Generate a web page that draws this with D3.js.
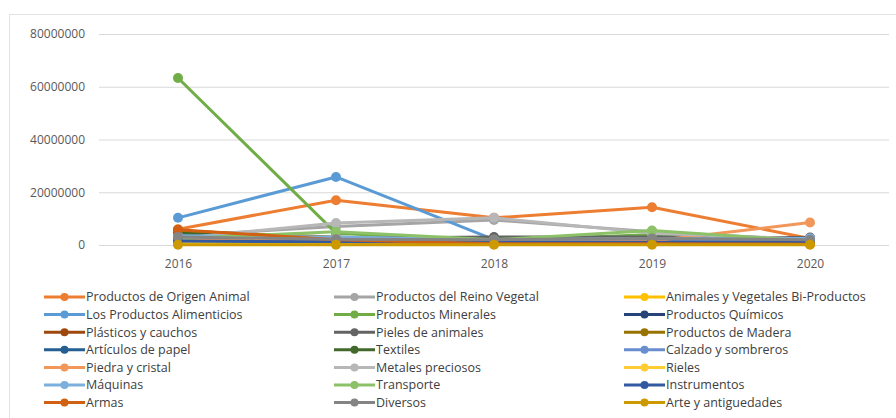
<!DOCTYPE html>
<html lang="es">
  <head>
    <meta charset="utf-8">
    <title>Exportaciones por sección</title>
    <script src="https://cdn.jsdelivr.net/npm/d3@7"></script>
    <style>
      body { margin: 0; background: #fff; }
      svg text { font-family: "Open Sans", "Liberation Sans", sans-serif; }
    </style>
  </head>
  <body>
    <div id="chart"></div>
    <script>
      // years on the x axis
      const years = ["2016", "2017", "2018", "2019", "2020"];
      const yTicks = [0, 20000000, 40000000, 60000000, 80000000];

      // series names in legend order (row by row, three columns)
      const names = [
        "Productos de Origen Animal", "Productos del Reino Vegetal", "Animales y Vegetales Bi-Productos",
        "Los Productos Alimenticios", "Productos Minerales", "Productos Químicos",
        "Plásticos y cauchos", "Pieles de animales", "Productos de Madera",
        "Artículos de papel", "Textiles", "Calzado y sombreros",
        "Piedra y cristal", "Metales preciosos", "Rieles",
        "Máquinas", "Transporte", "Instrumentos",
        "Armas", "Diversos", "Arte y antiguedades"
      ];

      const colors = [
        "#ED7D31", "#A5A5A5", "#FFC000",
        "#5B9BD5", "#70AD47", "#264478",
        "#9E480E", "#636363", "#997300",
        "#255E91", "#43682B", "#698ED0",
        "#F1975A", "#B7B7B7", "#FFCD33",
        "#7CAFDD", "#8CC168", "#335AA1",
        "#D26012", "#848484", "#CC9A00"
      ];

      // values per series, 2016..2020
      const origenAnimal    = [6000000, 17000000, 10300000, 14300000, 2500000];
      const reinoVegetal    = [3500000, 7000000, 9500000, 5000000, 2000000];
      const biProductos     = [800000, 800000, 600000, 900000, 500000];
      const alimenticios    = [10300000, 25800000, 2000000, 2500000, 2200000];
      const minerales       = [63300000, 4500000, 1500000, 4000000, 1000000];
      const quimicos        = [2000000, 1800000, 1500000, 1500000, 1200000];
      const plasticos       = [5500000, 2500000, 1200000, 1300000, 1000000];
      const pieles          = [3000000, 2600000, 3000000, 3000000, 2800000];
      const madera          = [5000000, 3000000, 1000000, 1000000, 800000];
      const papel           = [2000000, 1500000, 1200000, 1200000, 1000000];
      const textiles        = [4500000, 2000000, 1000000, 1000000, 800000];
      const calzado         = [1500000, 1200000, 1000000, 1000000, 2500000];
      const piedra          = [2000000, 1500000, 1000000, 1500000, 8500000];
      const metales         = [2500000, 8300000, 10300000, 4500000, 2200000];
      const rieles          = [500000, 500000, 500000, 800000, 500000];
      const maquinas        = [3500000, 3000000, 2000000, 2500000, 2500000];
      const transporte      = [2500000, 5000000, 2000000, 5500000, 1500000];
      const instrumentos    = [1500000, 1200000, 1000000, 1000000, 1000000];
      const armas           = [5800000, 2000000, 500000, 500000, 300000];
      const diversos        = [3000000, 2200000, 2000000, 2500000, 2000000];
      const arte            = [100000, 100000, 100000, 100000, 100000];

      const values = [
        origenAnimal, reinoVegetal, biProductos,
        alimenticios, minerales, quimicos,
        plasticos, pieles, madera,
        papel, textiles, calzado,
        piedra, metales, rieles,
        maquinas, transporte, instrumentos,
        armas, diversos, arte
      ];

      const series = names.map((n, i) => ({
        name: n,
        color: colors[i],
        points: years.map((y, j) => ({ year: y, value: values[i][j] }))
      }));

      const W = 896, H = 418;
      const svg = d3.select("#chart").append("svg")
          .attr("width", W)
          .attr("height", H);

      // chart frame
      svg.append("rect")
          .attr("x", 9.5).attr("y", 14.5)
          .attr("width", W).attr("height", H)
          .attr("fill", "#fff")
          .attr("stroke", "#e3e3e3");

      const plot = { left: 99, right: 889, top: 34, bottom: 245 };

      const x = d3.scalePoint()
          .domain(years)
          .range([plot.left, plot.right])
          .padding(0.5);

      const y = d3.scaleLinear()
          .domain([0, 80000000])
          .range([plot.bottom, plot.top]);

      // gridlines + y labels
      const yAxis = d3.axisLeft(y)
          .tickValues(yTicks)
          .tickSize(-(plot.right - plot.left))
          .tickPadding(14)
          .tickFormat(d3.format("d"));

      const gy = svg.append("g")
          .attr("transform", `translate(${plot.left},0)`)
          .call(yAxis);
      gy.select(".domain").remove();
      gy.selectAll(".tick line").attr("stroke", "#d9d9d9").attr("stroke-width", 1);
      gy.selectAll(".tick text")
          .attr("fill", "#595959")
          .attr("font-size", 12);

      const xAxis = d3.axisBottom(x).tickSize(0).tickPadding(14);
      const gx = svg.append("g")
          .attr("transform", `translate(0,${plot.bottom})`)
          .call(xAxis);
      gx.select(".domain").remove();
      gx.selectAll(".tick text")
          .attr("fill", "#595959")
          .attr("font-size", 12);

      const line = d3.line()
          .x(d => x(d.year))
          .y(d => y(d.value));

      const g = svg.append("g");
      series.forEach(s => {
        g.append("path")
            .datum(s.points)
            .attr("fill", "none")
            .attr("stroke", s.color)
            .attr("stroke-width", 3)
            .attr("stroke-linejoin", "round")
            .attr("d", line);
        g.selectAll(null)
            .data(s.points)
            .enter().append("circle")
            .attr("cx", d => x(d.year))
            .attr("cy", d => y(d.value))
            .attr("r", 5)
            .attr("fill", s.color);
      });

      // legend
      const colX = [44, 334, 624];
      const rowY0 = 297, rowH = 17.6;
      const legend = svg.append("g");
      series.forEach((s, i) => {
        const cx = colX[i % 3], cy = rowY0 + Math.floor(i / 3) * rowH;
        const item = legend.append("g").attr("transform", `translate(${cx},${cy})`);
        item.append("line")
            .attr("x1", 0).attr("x2", 41)
            .attr("stroke", s.color).attr("stroke-width", 3);
        item.append("circle").attr("cx", 20.5).attr("r", 4).attr("fill", s.color);
        item.append("text")
            .attr("x", 42)
            .attr("dy", "0.35em")
            .attr("font-size", 12.5)
            .attr("fill", "#404040")
            .text(s.name);
      });
    </script>
  </body>
</html>
